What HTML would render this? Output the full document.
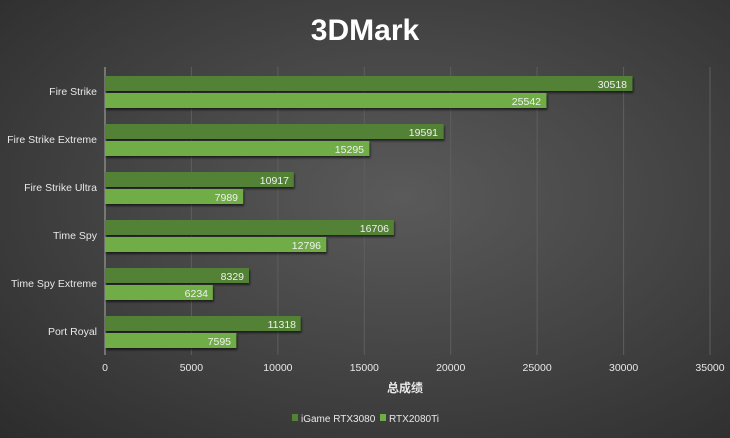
<!DOCTYPE html>
<html><head><meta charset="utf-8"><style>
body{margin:0;width:730px;height:438px;overflow:hidden;font-family:"Liberation Sans","Noto Sans CJK SC",sans-serif;}
.bg{position:absolute;left:0;top:0;width:730px;height:438px;background:radial-gradient(ellipse at 55% 45%,#5a5a5a 0%,#464646 45%,#2c2c2c 100%);}
</style></head><body><div class="bg"></div>
<svg width="730" height="438" style="position:absolute;left:0;top:0" font-family="Liberation Sans, Noto Sans CJK SC, sans-serif">
<defs><filter id="s" x="-5%" y="-20%" width="110%" height="160%"><feDropShadow dx="1" dy="2" stdDeviation="1" flood-color="#000" flood-opacity="0.6"/></filter></defs>
<text x="365" y="40" text-anchor="middle" fill="#fff" font-size="30" font-weight="bold">3DMark</text>
<g stroke="#5e5e5e" stroke-width="1">
<line x1="191.4" y1="67" x2="191.4" y2="355"/><line x1="277.9" y1="67" x2="277.9" y2="355"/><line x1="364.3" y1="67" x2="364.3" y2="355"/><line x1="450.7" y1="67" x2="450.7" y2="355"/><line x1="537.1" y1="67" x2="537.1" y2="355"/><line x1="623.6" y1="67" x2="623.6" y2="355"/><line x1="710" y1="67" x2="710" y2="355"/>
</g>
<line x1="105" y1="67" x2="105" y2="355" stroke="#888" stroke-width="1.5"/>
<g filter="url(#s)">
<rect x="105" y="76" width="527.5" height="15" fill="#538135"/><rect x="105" y="93" width="441.5" height="15" fill="#70ad47"/>
<rect x="105" y="124" width="338.6" height="15" fill="#538135"/><rect x="105" y="141" width="264.4" height="15" fill="#70ad47"/>
<rect x="105" y="172" width="188.7" height="15" fill="#538135"/><rect x="105" y="189" width="138.1" height="15" fill="#70ad47"/>
<rect x="105" y="220" width="288.8" height="15" fill="#538135"/><rect x="105" y="237" width="221.2" height="15" fill="#70ad47"/>
<rect x="105" y="268" width="144" height="15" fill="#538135"/><rect x="105" y="285" width="107.8" height="15" fill="#70ad47"/>
<rect x="105" y="316" width="195.6" height="15" fill="#538135"/><rect x="105" y="333" width="131.3" height="15" fill="#70ad47"/>
</g>
<g fill="#f0f0f0" font-size="10.5" text-anchor="end">
<text x="627" y="88">30518</text><text x="541" y="105">25542</text>
<text x="438" y="136">19591</text><text x="364" y="153">15295</text>
<text x="289" y="184">10917</text><text x="238" y="201">7989</text>
<text x="389" y="232">16706</text><text x="321" y="249">12796</text>
<text x="244" y="280">8329</text><text x="208" y="297">6234</text>
<text x="296" y="328">11318</text><text x="231" y="345">7595</text>
</g>
<g fill="#e8e8e8" font-size="10.5" text-anchor="end">
<text x="97" y="95">Fire Strike</text><text x="97" y="143">Fire Strike Extreme</text><text x="97" y="191">Fire Strike Ultra</text>
<text x="97" y="239">Time Spy</text><text x="97" y="287">Time Spy Extreme</text><text x="97" y="335">Port Royal</text>
</g>
<g fill="#e8e8e8" font-size="10.5" text-anchor="middle">
<text x="105" y="371">0</text><text x="191.4" y="371">5000</text><text x="277.9" y="371">10000</text><text x="364.3" y="371">15000</text><text x="450.7" y="371">20000</text><text x="537.1" y="371">25000</text><text x="623.6" y="371">30000</text><text x="710" y="371">35000</text>
<text x="405" y="392" font-size="12" font-weight="bold">总成绩</text>
</g>
<rect x="292" y="414" width="6" height="7" fill="#538135"/>
<text x="301" y="422" fill="#e8e8e8" font-size="10">iGame RTX3080</text>
<rect x="380" y="414" width="6" height="7" fill="#70ad47"/>
<text x="389" y="422" fill="#e8e8e8" font-size="10">RTX2080Ti</text>
</svg></body></html>
